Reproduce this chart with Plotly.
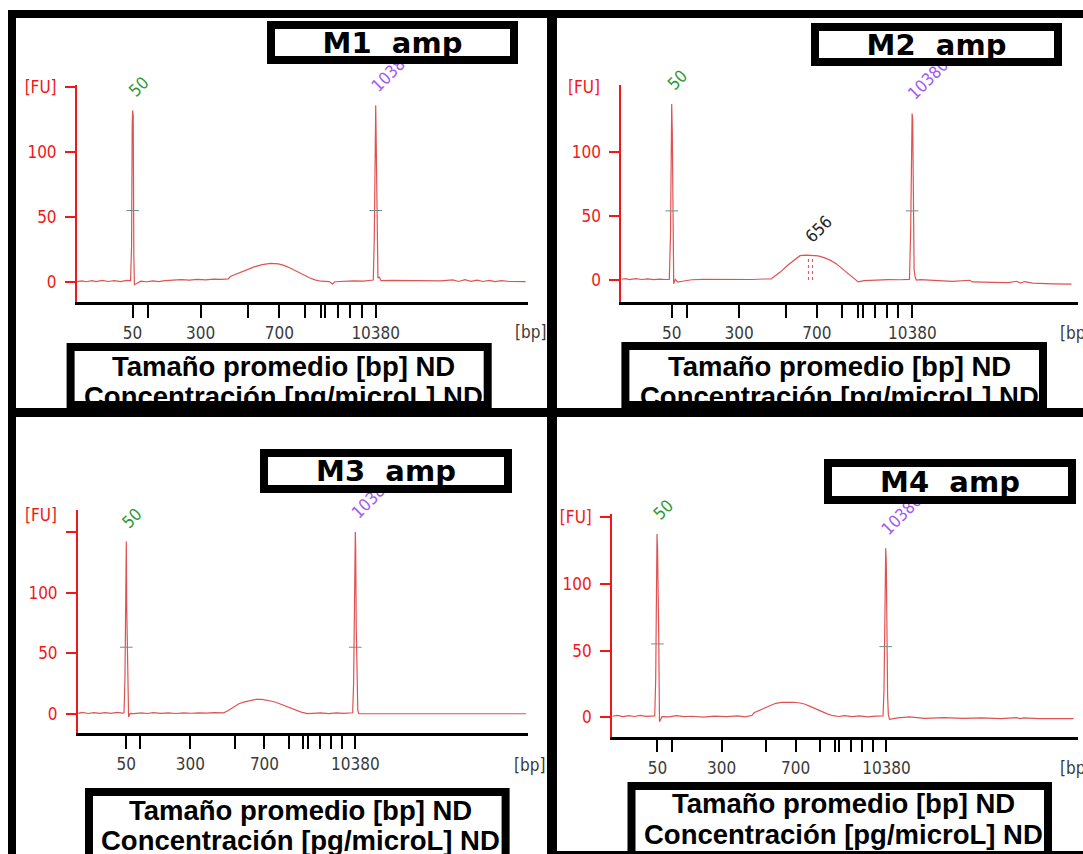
import plotly.graph_objects as go

W, H = 1083, 854

# ---------------- data ----------------
LADDER_T = [40.0, 43.7, 56.8, 68.4, 76.2, 82.5, 86.4, 87.6, 90.8, 93.6, 96.5, 100.0]
LADDER_LABELS = ["50", "", "300", "", "700", "", "", "", "", "", "", "10380"]
MARKER_LABELS = ["50", "10380"]
TITLES = ["M1 amp", "M2 amp", "M3 amp", "M4 amp"]
SUMMARY = ["Tamaño promedio [bp] ND", "Concentración [pg/microL] ND"]

M1_T = [26.3, 27.5, 28.5, 30, 31, 32.5, 34, 35.5, 37, 38.5, 39.5, 39.75, 39.9, 40.0, 40.15, 40.3, 40.45, 41,
        42, 43.5, 45, 46.5, 48, 50, 52, 54, 56, 58, 60, 62, 63.6, 64.1, 66, 68, 70, 72, 74, 76, 77.5, 79,
        80.5, 82, 83.5, 85, 86.5, 88.5, 89.3, 89.9, 92, 94.5, 97, 99.4, 99.65, 99.85, 100.0, 100.15, 100.35,
        100.55, 100.9, 101.3, 104, 108, 112, 116, 119, 120.5, 122, 123.5, 125, 126.5, 128, 129.5, 131, 133, 137]
M1_FU = [0.3, 0.9, 0.2, 1.1, 0.3, 1.3, 0.4, 1.0, 0.3, 1.2, 1.0, 28, 120, 132, 128, 20, -2, -1.2,
         0.6, 0.2, 0.9, 0.3, 1.1, 1.5, 1.8, 1.4, 2.0, 1.7, 2.2, 2.0, 2.4, 4.2, 6.5, 9.0, 11.6, 13.4, 14.3, 13.9, 12.6, 10.6,
         8.1, 5.6, 3.5, 1.6, 0.6, 0.3, -1.6, 0.2, 0.6, 0.9, 0.6, 1.5, 35, 102, 136, 100, 25,
         3, 3.8, 1.0, 1.2, 1.0, 0.9, 0.8, 1.6, 0.4, 1.8, 0.5, 1.5, 0.4, 1.3, 0.3, 1.1, 0.4, 0.3]
M1_PEAK_T = [40.0, 100.0]
M1_PEAK_FU = [132, 136]
M1_HALF_FU = [55, 55]

M2_T = [27.5, 28.5, 29.5, 31, 32.5, 34, 35.5, 37, 38.5, 39.4, 39.7, 39.85, 40.0, 40.15, 40.3, 40.5, 40.9,
        41.5, 43, 45, 48, 52, 56, 60, 63, 64.8, 65.5, 67, 69, 70.5, 72, 73.5, 75, 76.5, 78, 79.5, 81, 82.5,
        84, 85.5, 86.5, 88, 91, 94, 97, 99.3, 99.6, 99.8, 99.95, 100.1, 100.25, 100.45, 100.7, 101, 102,
        106, 110, 114.3, 115, 120, 124, 126, 127, 128, 130, 135, 139.7]
M2_FU = [0.6, 1.0, 0.3, 1.1, 0.4, 0.9, 0.3, 0.7, 0.4, 0.5, 35, 100, 137.5, 115, 30, -3, 0.5,
         -1.6, -0.8, 0.2, 0.5, 0.3, 0.6, 0.4, 0.8, 0.8, 2.5, 6.0, 11.7, 15.5, 19.0, 19.5, 19.3, 18.8, 17.5, 15.5, 12.8, 9.0,
         4.5, 0.8, -1.5, -0.5, 0.0, 0.3, 0.2, 0.5, 40, 110, 130, 125, 60, 8, 2.5, 0.0, 0.3,
         -0.5, -1.0, -0.2, -1.5, -1.8, -2.0, -1.0, -2.4, -1.2, -2.5, -3.0, -3.2]
M2_PEAK_T = [40.0, 99.95]
M2_PEAK_FU = [137.5, 130]
M2_HALF_FU = [54, 54]
M2_SMEAR_T = [74.6]
M2_SMEAR_FU = [19.5]
M2_SMEAR_LABEL = ["656"]
M2_SMEAR_BOUNDS_T = [74.1, 75.1]
M2_SMEAR_BOUNDS_FU = [19.4, 19.4]

M3_T = [27.4, 28.5, 30, 31.5, 33, 34.5, 36, 37.5, 39, 39.4, 39.65, 39.8, 39.9, 40.0, 40.1, 40.3, 40.45, 40.6,
        41, 42, 44, 45.5, 47, 49, 51, 53, 55, 57, 59, 61, 63, 65.5, 66.5, 68, 69.5, 71, 72.5, 74, 75.5, 77,
        78.5, 80, 81.5, 83, 84.5, 86, 87.5, 89, 91, 93, 95, 97, 99, 99.3, 99.55, 99.75, 99.9, 100.0, 100.1,
        100.25, 100.45, 100.65, 100.9, 105, 120, 135, 144.7]
M3_FU = [0.5, 1.4, 0.4, 1.1, 0.5, 1.2, 0.6, 1.3, 0.8, 1.0, 30, 85, 95, 142, 90, 40, 5, -2.5,
         0.5, 0.3, 1.0, 0.4, 1.2, 0.5, 0.9, 0.4, 1.0, 0.6, 0.9, 0.7, 1.2, 1.0, 2.5, 5.5, 8.5, 10.0, 11.2, 12.0, 12.1, 11.5,
         10.3, 8.7, 6.8, 4.8, 3.0, 1.3, 0.3, 0.6, 0.9, 0.3, 1.0, 0.5, 0.8, 1.0, 25, 80, 130, 150, 135,
         70, 20, 3, 0.3, 0.2, 0.2, 0.2, 0.2]
M3_PEAK_T = [40.0, 100.0]
M3_PEAK_FU = [142, 150]
M3_HALF_FU = [55, 55]

M4_T = [28.2, 29.5, 31, 32.5, 34, 35.5, 37, 38.5, 39.3, 39.55, 39.75, 39.9, 40.05, 40.2, 40.35, 40.55, 40.8,
        41.2, 43, 45, 47, 49, 52, 55, 58, 61, 63, 64.8, 65.3, 66.5, 68, 69.5, 71, 72.5, 74, 75.5, 77, 78.5,
        80, 81.5, 83, 84.5, 86, 87.5, 89, 91, 93, 95, 97, 99.1, 99.35, 99.55, 99.7, 99.8, 99.95, 100.1,
        100.3, 100.5, 100.8, 103, 106, 110, 115, 120, 125, 130, 134, 135, 136, 140, 145, 149]
M4_FU = [0.8, 1.4, 0.5, 1.2, 0.6, 1.5, 0.7, 1.1, 1.0, 28, 110, 137.4, 125, 105, 60, -3.3, -2.0,
         0.5, 0.3, 1.2, 0.5, 0.8, 0.2, 0.9, 0.5, 1.0, 0.4, 1.5, 3.5, 5.0, 7.0, 9.2, 10.5, 11.2, 11.4, 11.3, 10.9, 10.0,
         8.2, 6.2, 4.2, 2.6, 1.2, 0.6, 1.2, 0.5, 1.0, 0.3, 0.9, 1.0, 20, 55, 110, 126.7, 115, 60,
         15, 2, -1.5, -0.5, 0.3, -0.8, -0.3, -0.8, -0.5, -1.0, -0.3, -1.0, -0.4, -1.0, -0.8, -1.0]
M4_PEAK_T = [40.0, 99.8]
M4_PEAK_FU = [137.4, 126.7]
M4_HALF_FU = [55, 53]

# ---------------- style / layout geometry (pixels) ----------------
TRACE_COLOR = "#e05252"
AXIS_RED = "#f01818"
GREEN = "#2f9a2f"
PURPLE = "#a25af0"
TICK_FONT = "DejaVu Sans Condensed, Liberation Sans, sans-serif"


def fx(x):
    return x / W


def fy(y):
    return 1 - y / H


panels = [
    dict(t=M1_T, fu=M1_FU, pt=M1_PEAK_T, pf=M1_PEAK_FU, half=M1_HALF_FU,
         ax_l=77, ax_r=528, ax_top=85, ax_bot=302, zero=282, px50=65, tick50=132.6, pxs=4.052,
         ytv=[0, 50, 100, 150], ytt=["0", "50", "100", "[FU]"], fu_label=None,
         bp=(513, 332), title_box=(267, 518, 21, 64),
         sum_box=(66.6, 491.7, 343, 409), sum_x=283, sum_y=(366, 396)),
    dict(t=M2_T, fu=M2_FU, pt=M2_PEAK_T, pf=M2_PEAK_FU, half=M2_HALF_FU,
         ax_l=621.4, ax_r=1078, ax_top=85, ax_bot=302, zero=280, px50=64, tick50=671.7, pxs=4.01,
         ytv=[0, 50, 100], ytt=["0", "50", "100"], fu_label=(584, 87),
         bp=(1058, 333), title_box=(811, 1062, 23, 66),
         sum_box=(621.4, 1047, 342, 409), sum_x=839, sum_y=(366, 396)),
    dict(t=M3_T, fu=M3_FU, pt=M3_PEAK_T, pf=M3_PEAK_FU, half=M3_HALF_FU,
         ax_l=78, ax_r=528, ax_top=510, ax_bot=733, zero=714, px50=60.7, tick50=126.3, pxs=3.817,
         ytv=[0, 50, 100, 150], ytt=["0", "50", "100", ""], fu_label=(41, 515),
         bp=(512, 765), title_box=(260, 512, 449, 493),
         sum_box=(85, 509.6, 788, 880), sum_x=300, sum_y=(810, 840)),
    dict(t=M4_T, fu=M4_FU, pt=M4_PEAK_T, pf=M4_PEAK_FU, half=M4_HALF_FU,
         ax_l=612.2, ax_r=1078, ax_top=514, ax_bot=736.7, zero=717.3, px50=66.7, tick50=657.4, pxs=3.818,
         ytv=[0, 50, 100, 150], ytt=["0", "50", "100", "[FU]"], fu_label=None,
         bp=(1058, 768), title_box=(824, 1076, 459, 504),
         sum_box=(627.5, 1052, 782, 880), sum_x=843, sum_y=(803, 834)),
]

fig = go.Figure()
layout = dict(width=W, height=H, margin=dict(l=0, r=0, t=0, b=0, autoexpand=False),
              paper_bgcolor="white", plot_bgcolor="rgba(0,0,0,0)", showlegend=False)
annotations = []
shapes = []
title_annotations = []

for i, p in enumerate(panels, start=1):
    xa = "x" if i == 1 else f"x{i}"
    ya = "y" if i == 1 else f"y{i}"
    xkey = "xaxis" if i == 1 else f"xaxis{i}"
    ykey = "yaxis" if i == 1 else f"yaxis{i}"

    t0 = LADDER_T[0]
    x_range = [t0 - (p["tick50"] - p["ax_l"]) / p["pxs"], t0 + (p["ax_r"] - p["tick50"]) / p["pxs"]]
    y_range = [(p["zero"] - p["ax_bot"]) / p["px50"] * 50, (p["zero"] - p["ax_top"]) / p["px50"] * 50]

    layout[xkey] = dict(domain=[fx(p["ax_l"]), fx(p["ax_r"])], anchor=ya, range=x_range,
                        showline=True, linecolor="black", linewidth=2.5, showgrid=False, zeroline=False,
                        ticks="outside", ticklen=13, tickwidth=2, tickcolor="black",
                        tickmode="array", tickvals=LADDER_T, ticktext=LADDER_LABELS, tickangle=0,
                        tickfont=dict(family=TICK_FONT, size=17, color="#3a3a3a"),
                        ticklabelstandoff=1, fixedrange=True, automargin=False)
    layout[ykey] = dict(domain=[fy(p["ax_bot"]), fy(p["ax_top"])], anchor=xa, range=y_range,
                        showline=True, linecolor=AXIS_RED, linewidth=2, showgrid=False, zeroline=False,
                        ticks="outside", ticklen=10, tickwidth=2, tickcolor=AXIS_RED,
                        tickmode="array", tickvals=p["ytv"], ticktext=p["ytt"], tickangle=0,
                        tickfont=dict(family=TICK_FONT, size=17, color=AXIS_RED),
                        ticklabelstandoff=5, fixedrange=True, automargin=False)

    fig.add_trace(go.Scatter(x=p["t"], y=p["fu"], mode="lines", xaxis=xa, yaxis=ya,
                             line=dict(color=TRACE_COLOR, width=1.2), hoverinfo="skip"))
    fig.add_trace(go.Scatter(x=p["pt"], y=p["half"], mode="markers", xaxis=xa, yaxis=ya,
                             marker=dict(symbol="line-ew", size=9, line=dict(color="#6f8f8f", width=1)),
                             hoverinfo="skip"))

    if i == 2:
        for bt, bf in zip(M2_SMEAR_BOUNDS_T, M2_SMEAR_BOUNDS_FU):
            fig.add_trace(go.Scatter(x=[bt, bt], y=[0, bf], mode="lines", xaxis=xa, yaxis=ya,
                                     line=dict(color=TRACE_COLOR, width=1, dash="dot"), hoverinfo="skip"))
        for st, sf, sl in zip(M2_SMEAR_T, M2_SMEAR_FU, M2_SMEAR_LABEL):
            annotations.append(dict(x=st, y=sf, xref=xa, yref=ya, text=sl, textangle=-45,
                                    showarrow=False, xanchor="left", yanchor="bottom", xshift=-12, yshift=6,
                                    font=dict(family=TICK_FONT, size=17, color="#222222")))

    for pt, pf, lab, col in zip(p["pt"], p["pf"], MARKER_LABELS, [GREEN, PURPLE]):
        annotations.append(dict(x=pt, y=pf, xref=xa, yref=ya, text=lab, textangle=-45,
                                showarrow=False, xanchor="left", yanchor="bottom", xshift=-11, yshift=7,
                                font=dict(family=TICK_FONT, size=17, color=col)))

    if p["fu_label"]:
        annotations.append(dict(x=fx(p["fu_label"][0]), y=fy(p["fu_label"][1]), xref="paper", yref="paper",
                                text="[FU]", showarrow=False, xanchor="center", yanchor="middle",
                                font=dict(family=TICK_FONT, size=17, color=AXIS_RED)))
    annotations.append(dict(x=fx(p["bp"][0]), y=fy(p["bp"][1]), xref="paper", yref="paper",
                            text="[bp]", showarrow=False, xanchor="left", yanchor="middle",
                            font=dict(family=TICK_FONT, size=17, color="#3a3a3a")))

    # summary box
    x0, x1, y0, y1 = p["sum_box"]
    shapes.append(dict(type="rect", xref="paper", yref="paper", x0=fx(x0 + 4), x1=fx(x1 - 4),
                       y0=fy(y1 - 4), y1=fy(y0 + 4), line=dict(color="black", width=8),
                       fillcolor="white", layer="above"))
    for line_text, ly in zip(SUMMARY, p["sum_y"]):
        annotations.append(dict(x=fx(p["sum_x"]), y=fy(ly), xref="paper", yref="paper",
                                text=f"<b>{line_text}</b>", showarrow=False, xanchor="center",
                                yanchor="middle",
                                font=dict(family="Liberation Sans, Arial, sans-serif", size=27.5,
                                          color="black")))

    # title box (annotation so that it covers the marker label)
    bx0, bx1, by0, by1 = p["title_box"]
    title_annotations.append(dict(x=fx((bx0 + bx1) / 2), y=fy((by0 + by1) / 2), xref="paper", yref="paper",
                                  text="<b>" + TITLES[i - 1].replace(" ", "\u00a0\u00a0") + "</b>",
                                  showarrow=False, xanchor="center", yanchor="middle",
                                  width=bx1 - bx0 - 16, height=by1 - by0 - 16,
                                  bgcolor="white", bordercolor="black", borderwidth=8, borderpad=0,
                                  font=dict(family="DejaVu Sans, sans-serif", size=29, color="black")))

# frame bars
for (x0, x1, y0, y1) in [(8, 1083, 10, 18), (8, 16, 10, 854), (547, 557, 10, 854), (8, 1083, 408, 417),
                         (557, 1083, 851, 854)]:
    shapes.append(dict(type="rect", xref="paper", yref="paper", x0=fx(x0), x1=fx(x1), y0=fy(y1), y1=fy(y0),
                       line=dict(width=0), fillcolor="black", layer="above"))

layout["annotations"] = annotations + title_annotations
layout["shapes"] = shapes
fig.update_layout(**layout)
fig.write_html("out.html")
